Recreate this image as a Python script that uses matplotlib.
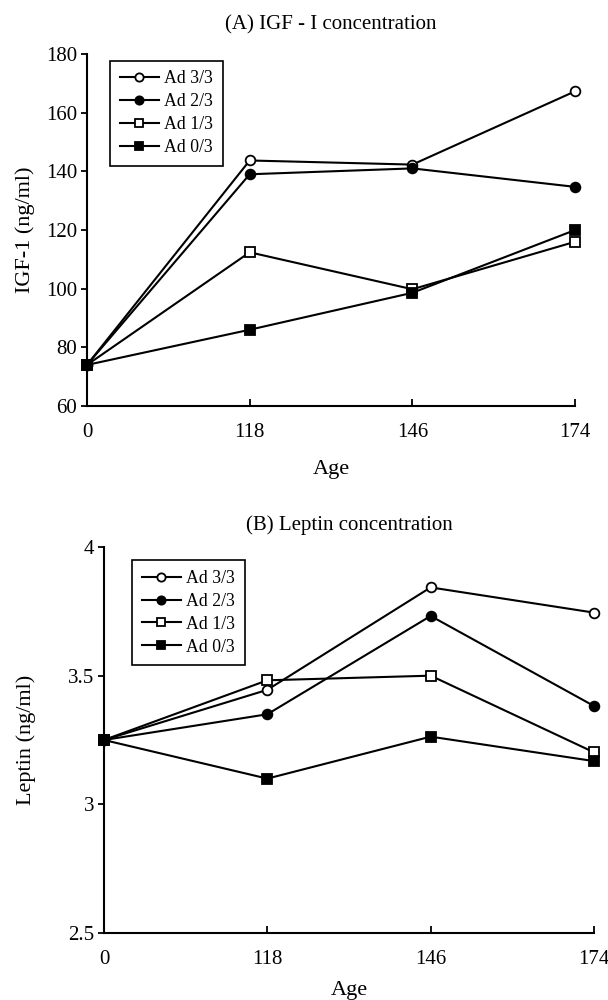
import numpy as np
import matplotlib.pyplot as plt

plt.rcParams['font.family'] = ['Liberation Serif', 'DejaVu Serif']

# categories (age)
ages = ['0', '118', '146', '174']
series_names = ['Ad 3/3', 'Ad 2/3', 'Ad 1/3', 'Ad 0/3']

# (A) IGF-I concentration (ng/ml)
igf_33 = [74, 143.7, 142.3, 167.3]
igf_23 = [74, 139.0, 141.0, 134.7]
igf_13 = [74, 112.4, 99.8, 116.0]
igf_03 = [74, 86.0, 98.6, 120.0]

# (B) Leptin concentration (ng/ml)
lep_33 = [3.25, 3.445, 3.843, 3.745]
lep_23 = [3.25, 3.35, 3.732, 3.382]
lep_13 = [3.25, 3.482, 3.50, 3.202]
lep_03 = [3.25, 3.10, 3.263, 3.168]

styles = [
    dict(marker='o', mfc='white'),
    dict(marker='o', mfc='black'),
    dict(marker='s', mfc='white'),
    dict(marker='s', mfc='black'),
]


def draw(ax, data, title, ylabel, ylim, yticks, yfmt,
         title_pad, ylabelpad, xlabelpad, leg_anchor):
    x = np.arange(len(ages))
    for vals, name, st in zip(data, series_names, styles):
        ax.plot(x, vals, color='black', lw=1.5, marker=st['marker'],
                mfc=st['mfc'], mec='black', mew=1.3, ms=7, label=name,
                clip_on=False, zorder=3)
    ax.set_xlim(0, 3)
    ax.set_ylim(*ylim)
    ax.set_xticks(x)
    ax.set_xticklabels(ages)
    ax.set_yticks(yticks)
    ax.set_yticklabels([yfmt(v) for v in yticks])
    ax.spines['top'].set_visible(False)
    ax.spines['right'].set_visible(False)
    for s in ('left', 'bottom'):
        ax.spines[s].set_linewidth(1.5)
    ax.tick_params(axis='x', direction='in', length=5, width=1.3,
                   labelsize=15, pad=12)
    ax.tick_params(axis='y', direction='out', length=4, width=1.3,
                   labelsize=15, pad=3)
    ax.set_title(title, fontsize=15, pad=title_pad)
    ax.set_ylabel(ylabel, fontsize=16, labelpad=ylabelpad)
    ax.set_xlabel('Age', fontsize=16, labelpad=xlabelpad)
    leg = ax.legend(loc='upper left', bbox_to_anchor=leg_anchor,
                    borderaxespad=0, fontsize=12.8, frameon=True,
                    fancybox=False, framealpha=1, edgecolor='black',
                    handlelength=2.2, handletextpad=0.3, borderpad=0.55,
                    labelspacing=0.33, markerscale=0.85)
    leg.get_frame().set_linewidth(1.2)


fig = plt.figure(figsize=(6.08, 10), dpi=100)
ax1 = fig.add_axes([0.143, 0.594, 0.803, 0.352])
ax2 = fig.add_axes([0.171, 0.067, 0.806, 0.386])

draw(ax1, [igf_33, igf_23, igf_13, igf_03], '(A) IGF - I concentration',
     'IGF-1 (ng/ml)', (60, 180), [60, 80, 100, 120, 140, 160, 180],
     lambda v: '%d' % v, 18, 8, 13, (0.047, 0.981))
draw(ax2, [lep_33, lep_23, lep_13, lep_03], '(B) Leptin concentration',
     'Leptin (ng/ml)', (2.5, 4), [2.5, 3, 3.5, 4],
     lambda v: ('%g' % v), 12, 23, 9, (0.057, 0.966))

fig.savefig('out.png', dpi=100)
